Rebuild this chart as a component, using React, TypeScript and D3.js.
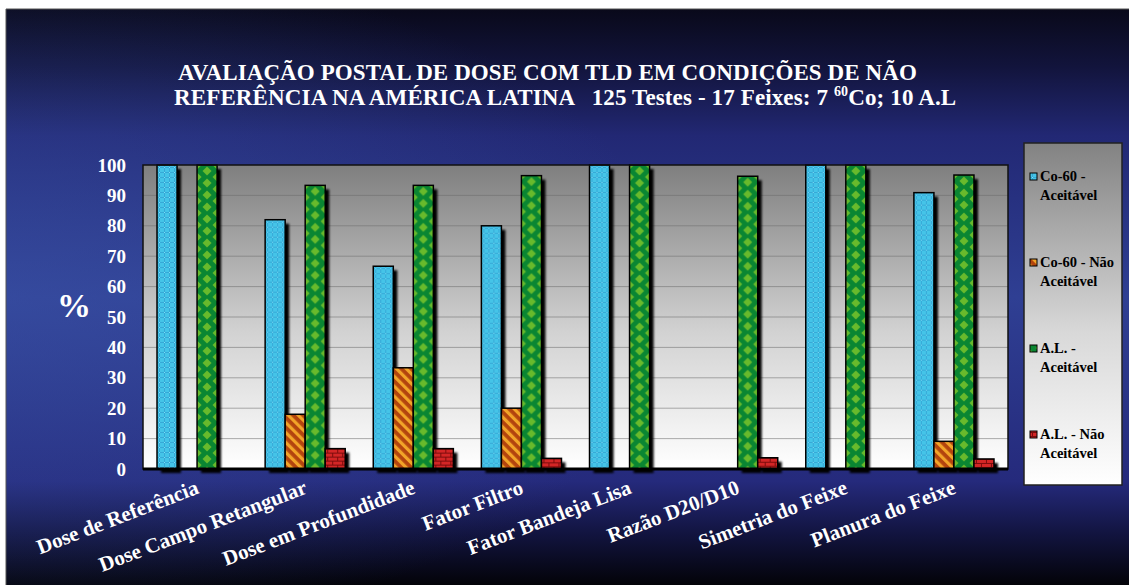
import React from "react";
import * as d3 from "d3";

// Categories and series (percent of tests)
const categories = [
  "Dose de Referência",
  "Dose Campo Retangular",
  "Dose em Profundidade",
  "Fator Filtro",
  "Fator Bandeja Lisa",
  "Razão D20/D10",
  "Simetria do Feixe",
  "Planura do Feixe",
];
const co60Aceitavel = [100, 82, 66.7, 80, 100, 0, 100, 90.9];
const co60NaoAceitavel = [0, 18, 33.3, 20, 0, 0, 0, 9.1];
const alAceitavel = [100, 93.3, 93.3, 96.5, 100, 96.3, 100, 96.7];
const alNaoAceitavel = [0, 6.7, 6.7, 3.5, 0, 3.7, 0, 3.3];
const seriesNames = ["Co-60 - Aceitável", "Co-60 - Não Aceitável", "A.L. - Aceitável", "A.L. - Não Aceitável"];
const legendLines = [
  ["Co-60 -", "Aceitável"],
  ["Co-60 - Não", "Aceitável"],
  ["A.L. -", "Aceitável"],
  ["A.L. - Não", "Aceitável"],
];
const yTicks = [0, 10, 20, 30, 40, 50, 60, 70, 80, 90, 100];

const W = 1129;
const H = 585;
const plot = { left: 143, right: 1008, top: 165, bottom: 469 };
const serif = "'Liberation Serif', 'Times New Roman', serif";
const fills = ["url(#pCyan)", "url(#pStripe)", "url(#pDiamond)", "url(#pBrick)"];

export default function App() {
  const values = [co60Aceitavel, co60NaoAceitavel, alAceitavel, alNaoAceitavel];
  const x = d3.scaleBand<string>().domain(categories).range([plot.left, plot.right]);
  const xs = d3
    .scaleBand<string>()
    .domain(seriesNames)
    .range([0, x.bandwidth()])
    .paddingInner(0)
    .paddingOuter(0.7);
  const y = d3.scaleLinear().domain([0, 100]).range([plot.bottom, plot.top]);

  const bars: { key: string; bx: number; by: number; bw: number; bh: number; fill: string }[] = [];
  categories.forEach((c, ci) => {
    seriesNames.forEach((s, si) => {
      const v = values[si][ci];
      if (v <= 0) return;
      bars.push({
        key: `${ci}-${si}`,
        bx: (x(c) ?? 0) + (xs(s) ?? 0),
        by: y(v),
        bw: xs.bandwidth(),
        bh: y(0) - y(v),
        fill: fills[si],
      });
    });
  });

  return (
    <svg
      width={W}
      height={H}
      style={{ position: "absolute", left: 0, top: 0, display: "block" }}
      fontFamily={serif}
    >
      <defs>
        <linearGradient id="bg" x1="0" y1="0" x2="0" y2="1">
          <stop offset="0" stopColor="#09091a" />
          <stop offset="0.1" stopColor="#12143c" />
          <stop offset="0.22" stopColor="#222874" />
          <stop offset="0.5" stopColor="#2f3f93" />
          <stop offset="0.82" stopColor="#252a7c" />
          <stop offset="0.91" stopColor="#121440" />
          <stop offset="1" stopColor="#030308" />
        </linearGradient>
        <radialGradient id="bgGlow" cx="0" cy="0.5" r="0.6">
          <stop offset="0" stopColor="#3a52a6" stopOpacity="0.55" />
          <stop offset="1" stopColor="#3a52a6" stopOpacity="0" />
        </radialGradient>
        <linearGradient id="plotBg" x1="0" y1="0" x2="0" y2="1">
          <stop offset="0" stopColor="#7f7f7f" />
          <stop offset="0.55" stopColor="#d2d2d2" />
          <stop offset="1" stopColor="#ffffff" />
        </linearGradient>
        <linearGradient id="legendBg" x1="0" y1="0" x2="0" y2="1">
          <stop offset="0" stopColor="#828282" />
          <stop offset="0.55" stopColor="#d8d8d8" />
          <stop offset="1" stopColor="#ffffff" />
        </linearGradient>
        <pattern id="pCyan" width="5" height="5" patternUnits="userSpaceOnUse">
          <rect width="5" height="5" fill="#45c4e8" />
          <rect x="2" y="0" width="1" height="5" fill="#2f9fd0" opacity="0.7" />
          <rect x="0" y="2" width="5" height="1" fill="#2f9fd0" opacity="0.7" />
          <rect x="2" y="2" width="1" height="1" fill="#7fe0f6" />
        </pattern>
        <pattern
          id="pStripe"
          width="7"
          height="7"
          patternUnits="userSpaceOnUse"
          patternTransform="rotate(-45)"
        >
          <rect width="7" height="7" fill="#b3440e" />
          <rect width="3.2" height="7" fill="#f2a428" />
        </pattern>
        <pattern id="pDiamond" width="20" height="12" patternUnits="userSpaceOnUse">
          <rect width="20" height="12" fill="#0a8632" />
          <polygon points="10,1.5 14.5,6 10,10.5 5.5,6" fill="#68ba2c" />
          <polygon points="0,-4.5 4.5,0 0,4.5 -4.5,0" fill="#68ba2c" />
          <polygon points="20,-4.5 24.5,0 20,4.5 15.5,0" fill="#68ba2c" />
          <polygon points="0,7.5 4.5,12 0,16.5 -4.5,12" fill="#68ba2c" />
          <polygon points="20,7.5 24.5,12 20,16.5 15.5,12" fill="#68ba2c" />
        </pattern>
        <pattern id="pBrick" width="10" height="8" patternUnits="userSpaceOnUse">
          <rect width="10" height="8" fill="#d32626" />
          <rect y="0" width="10" height="1" fill="#7c0c0c" />
          <rect y="4" width="10" height="1" fill="#7c0c0c" />
          <rect x="2" y="0" width="1" height="4" fill="#7c0c0c" />
          <rect x="7" y="4" width="1" height="4" fill="#7c0c0c" />
        </pattern>
        <filter id="soft" x="-20%" y="-20%" width="140%" height="140%">
          <feGaussianBlur stdDeviation="0.8" />
        </filter>
      </defs>

      {/* page frame and slide background */}
      <rect width={W} height={H} fill="#ffffff" />
      <rect x={6} y={9} width={W - 6} height={H - 9} fill="url(#bg)" />
      <rect x={6} y={9} width={W - 6} height={H - 9} fill="url(#bgGlow)" />
      <line x1={6} y1={9} x2={W} y2={9} stroke="#555" strokeWidth={1} />
      <line x1={6} y1={9} x2={6} y2={H} stroke="#555" strokeWidth={1} />

      {/* title */}
      <text fill="#ffffff" fontWeight="bold" fontSize={23} x={178} y={80} letterSpacing={0.1}>
        AVALIAÇÃO POSTAL DE DOSE COM TLD EM CONDIÇÕES DE NÃO
      </text>
      <text fill="#ffffff" fontWeight="bold" fontSize={23} letterSpacing={0.13}>
        <tspan x={174} y={105} xmlSpace="preserve">
          {"REFERÊNCIA NA AMÉRICA LATINA   125 Testes - 17 Feixes: 7 "}
        </tspan>
        <tspan fontSize={14} dy={-9}>
          60
        </tspan>
        <tspan dy={9}>Co; 10 A.L</tspan>
      </text>

      {/* plot area */}
      <rect
        x={plot.left}
        y={plot.top}
        width={plot.right - plot.left}
        height={plot.bottom - plot.top}
        fill="url(#plotBg)"
      />
      {yTicks
        .filter((t) => t > 0 && t < 100)
        .map((t) => (
          <line
            key={t}
            x1={plot.left}
            x2={plot.right}
            y1={y(t)}
            y2={y(t)}
            stroke="#6e6e6e"
            strokeOpacity={0.55}
            strokeWidth={1}
          />
        ))}

      {/* bar shadows */}
      {bars.map((b) => (
        <rect
          key={"s" + b.key}
          x={b.bx + 4}
          y={b.by + 4}
          width={b.bw}
          height={b.bh}
          fill="#000"
          filter="url(#soft)"
        />
      ))}
      {/* bars */}
      {bars.map((b) => (
        <g key={b.key} transform={`translate(${b.bx},${b.by})`}>
          <rect width={b.bw} height={b.bh} fill={b.fill} stroke="#000" strokeWidth={1.5} />
        </g>
      ))}

      {/* plot frame and base line */}
      <rect
        x={plot.left}
        y={plot.top}
        width={plot.right - plot.left}
        height={plot.bottom - plot.top}
        fill="none"
        stroke="#111"
        strokeWidth={1.5}
      />
      <line x1={plot.left} x2={plot.right} y1={plot.bottom} y2={plot.bottom} stroke="#000" strokeWidth={3} />

      {/* y axis */}
      {yTicks.map((t) => (
        <text
          key={t}
          x={126}
          y={y(t)}
          dy="0.35em"
          textAnchor="end"
          fill="#fff"
          fontWeight="bold"
          fontSize={19}
        >
          {t}
        </text>
      ))}
      <text x={74} y={305} dy="0.35em" textAnchor="middle" fill="#fff" fontWeight="bold" fontSize={34}>
        %
      </text>

      {/* category labels */}
      {categories.map((c) => (
        <text
          key={c}
          transform={`translate(${(x(c) ?? 0) + x.bandwidth() / 2 + 3},${493}) rotate(-21)`}
          textAnchor="end"
          fill="#fff"
          fontWeight="bold"
          fontSize={21}
        >
          {c}
        </text>
      ))}

      {/* legend */}
      <rect x={1024} y={143} width={98} height={342} fill="url(#legendBg)" stroke="#222" strokeWidth={1.5} />
      {legendLines.map((lines, i) => {
        const ly = 181 + i * 86;
        return (
          <g key={i}>
            <rect x={1030} y={ly - 8} width={7} height={7} fill={fills[i]} stroke="#000" strokeWidth={1} />
            <text x={1040} y={ly} fontWeight="bold" fontSize={14.5} fill="#000">
              {lines[0]}
            </text>
            <text x={1040} y={ly + 19} fontWeight="bold" fontSize={14.5} fill="#000">
              {lines[1]}
            </text>
          </g>
        );
      })}
    </svg>
  );
}
